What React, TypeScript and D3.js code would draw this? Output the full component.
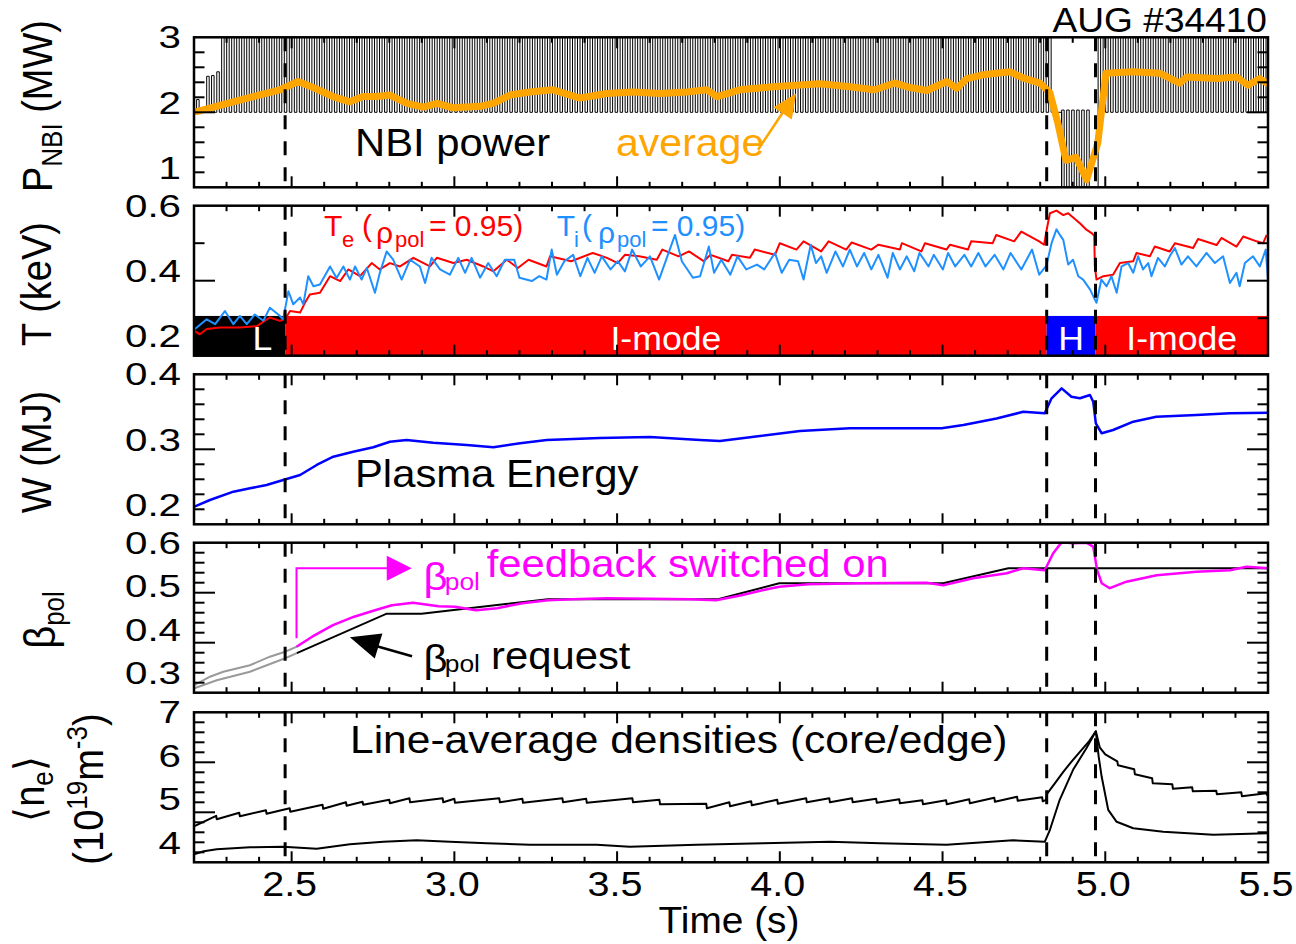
import React from "react";
import * as d3 from "d3";

type P = [number, number];

const FONT = '"Liberation Sans", Arial, Helvetica, sans-serif';

// ---------------- data ----------------
const timeTicks = [2.5, 3.0, 3.5, 4.0, 4.5, 5.0, 5.5];
const transitionTimes = [2.48, 4.82, 4.97];

const nbiTicks = [1, 2, 3];
const tempTicks = [0.2, 0.4, 0.6];
const energyTicks = [0.2, 0.3, 0.4];
const betaTicks = [0.3, 0.4, 0.5, 0.6];
const densTicks = [4, 5, 6, 7];

// NBI modulation (MW): first partial pulses, then blocks [t0, t1, low, high]
const nbiEarlyPulses: P[] = [[2.208, 2.17], [2.239, 2.48], [2.254, 2.49], [2.27, 2.54]];
const nbiPeriod = 0.0154;
const nbiBlocks: [number, number, number, number][] = [
  [2.285, 4.826, 2.0, 3.0],
  [4.866, 4.955, 1.0, 2.03],
  [4.978, 5.5, 2.0, 3.0],
];
const nbiAverage: P[] = [
  [2.208, 2.01], [2.32, 2.14], [2.464, 2.3], [2.52, 2.41], [2.566, 2.33], [2.627, 2.21], [2.679, 2.14],
  [2.719, 2.21], [2.762, 2.21], [2.802, 2.23], [2.854, 2.12], [2.904, 2.07], [2.947, 2.12], [2.996, 2.06],
  [3.079, 2.08], [3.119, 2.12], [3.171, 2.23], [3.232, 2.27], [3.303, 2.3], [3.386, 2.19], [3.469, 2.25],
  [3.549, 2.27], [3.632, 2.25], [3.715, 2.27], [3.776, 2.3], [3.807, 2.21], [3.877, 2.3], [3.979, 2.34],
  [4.123, 2.38], [4.215, 2.34], [4.292, 2.3], [4.354, 2.39], [4.4, 2.33], [4.452, 2.29], [4.513, 2.41],
  [4.544, 2.32], [4.575, 2.45], [4.624, 2.5], [4.707, 2.54], [4.747, 2.46], [4.799, 2.39], [4.83, 2.26],
  [4.854, 1.86], [4.879, 1.36], [4.91, 1.4], [4.943, 1.1], [4.977, 1.59], [5.002, 2.52], [5.085, 2.54],
  [5.168, 2.52], [5.229, 2.39], [5.251, 2.47], [5.343, 2.45], [5.404, 2.47], [5.438, 2.36], [5.475, 2.45],
  [5.496, 2.39],
];

// Edge temperatures (keV)
const teEdge: P[] = [
  [2.201, 0.266], [2.218, 0.257], [2.239, 0.271], [2.28, 0.275], [2.341, 0.275], [2.393, 0.279], [2.433, 0.302],
  [2.464, 0.293], [2.48, 0.297], [2.495, 0.319], [2.526, 0.315], [2.541, 0.341], [2.556, 0.363], [2.587, 0.368],
  [2.618, 0.412], [2.649, 0.399], [2.674, 0.43], [2.71, 0.412], [2.746, 0.447], [2.771, 0.43], [2.802, 0.447],
  [2.833, 0.438], [2.874, 0.461], [2.925, 0.438], [2.946, 0.461], [2.997, 0.447], [3.038, 0.456], [3.089, 0.438],
  [3.12, 0.425], [3.161, 0.456], [3.195, 0.434], [3.228, 0.456], [3.283, 0.438], [3.294, 0.465], [3.359, 0.452],
  [3.425, 0.474], [3.469, 0.461], [3.502, 0.447], [3.524, 0.469], [3.568, 0.465], [3.622, 0.456], [3.639, 0.483],
  [3.689, 0.465], [3.721, 0.478], [3.766, 0.452], [3.787, 0.469], [3.842, 0.452], [3.853, 0.469], [3.908, 0.461],
  [3.923, 0.483], [3.985, 0.469], [4.0, 0.5], [4.051, 0.483], [4.073, 0.505], [4.127, 0.478], [4.15, 0.505],
  [4.204, 0.483], [4.221, 0.502], [4.281, 0.483], [4.303, 0.496], [4.369, 0.483], [4.375, 0.5], [4.435, 0.478],
  [4.446, 0.5], [4.512, 0.483], [4.523, 0.496], [4.578, 0.483], [4.588, 0.505], [4.654, 0.5], [4.665, 0.522],
  [4.72, 0.505], [4.742, 0.531], [4.797, 0.505], [4.812, 0.496], [4.82, 0.536], [4.83, 0.58], [4.85, 0.587],
  [4.871, 0.575], [4.886, 0.58], [4.922, 0.553], [4.942, 0.536], [4.958, 0.527], [4.966, 0.52], [4.968, 0.438],
  [4.973, 0.403], [4.994, 0.412], [5.024, 0.416], [5.045, 0.447], [5.086, 0.452], [5.096, 0.474], [5.137, 0.465],
  [5.152, 0.491], [5.198, 0.478], [5.214, 0.5], [5.27, 0.487], [5.285, 0.511], [5.342, 0.495], [5.357, 0.514],
  [5.403, 0.491], [5.424, 0.518], [5.465, 0.505], [5.485, 0.5], [5.496, 0.522],
];
const tiEdge: P[] = [
  [2.201, 0.27], [2.239, 0.297], [2.265, 0.284], [2.295, 0.319], [2.321, 0.284], [2.341, 0.306], [2.362, 0.284],
  [2.387, 0.31], [2.413, 0.293], [2.433, 0.328], [2.459, 0.31], [2.474, 0.297], [2.49, 0.372], [2.505, 0.337],
  [2.526, 0.355], [2.536, 0.337], [2.551, 0.412], [2.567, 0.385], [2.587, 0.39], [2.618, 0.438], [2.638, 0.407],
  [2.659, 0.438], [2.679, 0.403], [2.695, 0.438], [2.715, 0.403], [2.731, 0.434], [2.756, 0.368], [2.771, 0.421],
  [2.792, 0.478], [2.812, 0.456], [2.838, 0.403], [2.864, 0.456], [2.894, 0.438], [2.91, 0.394], [2.93, 0.461],
  [2.956, 0.43], [2.986, 0.416], [3.012, 0.461], [3.033, 0.421], [3.053, 0.461], [3.079, 0.408], [3.104, 0.447],
  [3.13, 0.412], [3.155, 0.456], [3.184, 0.456], [3.2, 0.408], [3.238, 0.399], [3.261, 0.412], [3.283, 0.403],
  [3.299, 0.483], [3.315, 0.416], [3.338, 0.452], [3.365, 0.469], [3.387, 0.412], [3.409, 0.461], [3.431, 0.421],
  [3.453, 0.465], [3.48, 0.43], [3.502, 0.452], [3.524, 0.425], [3.546, 0.483], [3.573, 0.438], [3.601, 0.465],
  [3.629, 0.403], [3.656, 0.469], [3.678, 0.522], [3.699, 0.452], [3.733, 0.408], [3.755, 0.412], [3.782, 0.491],
  [3.798, 0.421], [3.82, 0.456], [3.848, 0.416], [3.87, 0.465], [3.897, 0.43], [3.93, 0.443], [3.952, 0.43],
  [3.985, 0.474], [4.006, 0.421], [4.029, 0.456], [4.056, 0.452], [4.073, 0.403], [4.095, 0.496], [4.111, 0.447],
  [4.127, 0.465], [4.144, 0.421], [4.171, 0.478], [4.194, 0.438], [4.215, 0.483], [4.237, 0.438], [4.259, 0.474],
  [4.281, 0.43], [4.303, 0.469], [4.331, 0.408], [4.347, 0.474], [4.369, 0.43], [4.39, 0.465], [4.413, 0.425],
  [4.429, 0.474], [4.457, 0.438], [4.473, 0.469], [4.501, 0.43], [4.517, 0.474], [4.539, 0.438], [4.567, 0.469],
  [4.588, 0.438], [4.61, 0.474], [4.632, 0.438], [4.66, 0.469], [4.687, 0.43], [4.709, 0.474], [4.742, 0.43],
  [4.775, 0.483], [4.797, 0.416], [4.819, 0.44], [4.835, 0.5], [4.85, 0.537], [4.862, 0.52], [4.871, 0.509],
  [4.886, 0.443], [4.901, 0.456], [4.917, 0.412], [4.932, 0.403], [4.953, 0.377], [4.973, 0.341], [4.988, 0.403],
  [5.004, 0.385], [5.019, 0.412], [5.035, 0.368], [5.05, 0.438], [5.07, 0.447], [5.086, 0.421], [5.101, 0.465],
  [5.116, 0.43], [5.132, 0.447], [5.142, 0.412], [5.162, 0.461], [5.183, 0.438], [5.198, 0.465], [5.214, 0.487],
  [5.234, 0.443], [5.254, 0.465], [5.28, 0.438], [5.311, 0.474], [5.337, 0.447], [5.362, 0.465], [5.383, 0.394],
  [5.403, 0.421], [5.413, 0.385], [5.429, 0.447], [5.454, 0.465], [5.475, 0.438], [5.493, 0.483], [5.5, 0.403],
];

// confinement regime bar: [t0, t1, colour, label, label time]
const regimes: [number, number, string, string, number][] = [
  [2.2, 2.48, "#000000", "L", 2.41],
  [2.48, 4.82, "#ff0000", "I-mode", 3.65],
  [4.82, 4.97, "#0000ff", "H", 4.895],
  [4.97, 5.5, "#ff0000", "I-mode", 5.235],
];
const regimeBand = [0.2, 0.306];

// Plasma energy (MJ)
const plasmaEnergy: P[] = [
  [2.201, 0.2235], [2.249, 0.2324], [2.321, 0.2435], [2.372, 0.248], [2.423, 0.2524], [2.474, 0.2591],
  [2.526, 0.2657], [2.577, 0.2791], [2.628, 0.2901], [2.689, 0.2968], [2.751, 0.3027], [2.802, 0.3101],
  [2.853, 0.3124], [2.935, 0.3088], [3.038, 0.3057], [3.12, 0.3027], [3.202, 0.308], [3.284, 0.3124],
  [3.447, 0.315], [3.601, 0.3164], [3.755, 0.3124], [3.816, 0.311], [3.939, 0.3177], [4.062, 0.3244],
  [4.215, 0.328], [4.308, 0.328], [4.41, 0.328], [4.497, 0.328], [4.564, 0.3324], [4.666, 0.341], [4.748, 0.35],
  [4.814, 0.348], [4.835, 0.368], [4.866, 0.3813], [4.896, 0.37], [4.922, 0.368], [4.953, 0.3724],
  [4.963, 0.3635], [4.971, 0.3347], [4.989, 0.3213], [5.024, 0.3257], [5.086, 0.3368], [5.157, 0.3435],
  [5.28, 0.3457], [5.383, 0.348], [5.5, 0.3488],
];

// beta_pol
const betaOhmicMeasured: P[] = [
  [2.201, 0.315], [2.249, 0.332], [2.29, 0.342], [2.372, 0.355], [2.433, 0.372], [2.48, 0.382], [2.516, 0.392],
];
const betaOhmicRequest: P[] = [[2.201, 0.309], [2.27, 0.325], [2.372, 0.342], [2.48, 0.369], [2.516, 0.379]];
const betaRequest: P[] = [
  [2.516, 0.379], [2.792, 0.458], [2.899, 0.458], [3.287, 0.487], [3.81, 0.487], [3.998, 0.519],
  [4.502, 0.519], [4.702, 0.549], [5.5, 0.549],
];
const betaFeedback: P[] = [
  [2.515, 0.392], [2.563, 0.412], [2.627, 0.435], [2.692, 0.452], [2.756, 0.465], [2.808, 0.475], [2.873, 0.48],
  [2.951, 0.473], [3.002, 0.472], [3.066, 0.465], [3.131, 0.469], [3.209, 0.479], [3.287, 0.485], [3.364, 0.487],
  [3.468, 0.489], [3.597, 0.488], [3.727, 0.487], [3.804, 0.485], [3.882, 0.495], [3.946, 0.505], [3.998, 0.512],
  [4.088, 0.517], [4.244, 0.519], [4.451, 0.52], [4.502, 0.515], [4.594, 0.529], [4.697, 0.539], [4.748, 0.549],
  [4.814, 0.545], [4.84, 0.579], [4.866, 0.601], [4.901, 0.599], [4.942, 0.6], [4.963, 0.592], [4.975, 0.545],
  [4.989, 0.519], [5.014, 0.509], [5.065, 0.522], [5.158, 0.535], [5.28, 0.542], [5.383, 0.545], [5.434, 0.552],
  [5.5, 0.549],
];

// line-average densities (1e19 m^-3)
const densCore: P[] = [
  [2.2, 4.72], [2.268, 4.93], [2.27, 4.86], [2.339, 4.99], [2.341, 4.92], [2.421, 5.04], [2.423, 4.97],
  [2.494, 5.08], [2.496, 5.01], [2.595, 5.15], [2.597, 5.07], [2.667, 5.2], [2.669, 5.13], [2.718, 5.21],
  [2.72, 5.15], [2.8, 5.25], [2.802, 5.18], [2.862, 5.28], [2.864, 5.2], [2.964, 5.28], [2.966, 5.2], [3.0, 5.27],
  [3.002, 5.19], [3.138, 5.28], [3.14, 5.2], [3.209, 5.27], [3.211, 5.19], [3.332, 5.28], [3.334, 5.2],
  [3.405, 5.27], [3.407, 5.19], [3.547, 5.28], [3.549, 5.2], [3.63, 5.25], [3.632, 5.16], [3.774, 5.17],
  [3.776, 5.08], [3.845, 5.2], [3.847, 5.12], [3.912, 5.22], [3.914, 5.14], [3.992, 5.25], [3.994, 5.17],
  [4.081, 5.28], [4.083, 5.2], [4.152, 5.28], [4.154, 5.2], [4.222, 5.28], [4.224, 5.2], [4.296, 5.27],
  [4.298, 5.19], [4.367, 5.26], [4.369, 5.18], [4.438, 5.24], [4.44, 5.16], [4.511, 5.24], [4.513, 5.16],
  [4.582, 5.26], [4.584, 5.18], [4.659, 5.29], [4.661, 5.21], [4.729, 5.31], [4.731, 5.23], [4.806, 5.3],
  [4.808, 5.22], [4.818, 5.25], [4.822, 5.38], [4.845, 5.58], [4.871, 5.81], [4.897, 6.02], [4.922, 6.21],
  [4.95, 6.42], [4.971, 6.62], [4.983, 6.3], [5.0, 6.16], [5.037, 6.02], [5.039, 5.94], [5.089, 5.86],
  [5.091, 5.76], [5.144, 5.68], [5.146, 5.58], [5.206, 5.56], [5.208, 5.47], [5.267, 5.5], [5.269, 5.42],
  [5.341, 5.43], [5.343, 5.36], [5.418, 5.4], [5.42, 5.32], [5.494, 5.38], [5.5, 5.32],
];
const densEdge: P[] = [
  [2.2, 4.16], [2.23, 4.22], [2.27, 4.26], [2.372, 4.3], [2.474, 4.31], [2.577, 4.27], [2.679, 4.36],
  [2.782, 4.41], [2.884, 4.44], [2.986, 4.41], [3.1, 4.38], [3.232, 4.35], [3.437, 4.35], [3.539, 4.31],
  [3.744, 4.35], [3.949, 4.38], [4.154, 4.41], [4.308, 4.38], [4.512, 4.35], [4.717, 4.44], [4.814, 4.41],
  [4.83, 4.65], [4.86, 5.25], [4.901, 5.85], [4.942, 6.28], [4.971, 6.62], [4.98, 6.1], [4.989, 5.71],
  [5.009, 5.05], [5.035, 4.81], [5.086, 4.68], [5.178, 4.61], [5.332, 4.55], [5.5, 4.58],
];

// ---------------- layout ----------------
const X_LEFT = 194;
const X_RIGHT = 1268;
const TOPS = [37.3, 205.7, 374.3, 542.7, 712.3];
const PH = 150;

const x = d3.scaleLinear().domain([2.2, 5.5]).range([X_LEFT, X_RIGHT]);

type PanelCfg = { domain: [number, number]; minor: number; major: number[]; labels: number[]; fmt: string };
const PANELS: PanelCfg[] = [
  { domain: [1, 3], minor: 0.2, major: [2], labels: nbiTicks, fmt: ".0f" },
  { domain: [0.2, 0.6], minor: 0.1, major: [0.4], labels: tempTicks, fmt: ".1f" },
  { domain: [0.2, 0.4], minor: 0.02, major: [0.3], labels: energyTicks, fmt: ".1f" },
  { domain: [0.3, 0.6], minor: 0.02, major: [0.4, 0.5], labels: betaTicks, fmt: ".1f" },
  { domain: [4, 7], minor: 0.2, major: [5, 6], labels: densTicks, fmt: ".0f" },
];
const yScales = PANELS.map((p, i) => d3.scaleLinear().domain(p.domain).range([TOPS[i] + PH, TOPS[i]]));

function lineFor(y: d3.ScaleLinear<number, number>) {
  return d3.line<P>().x((d) => x(d[0])).y((d) => y(d[1]));
}

function nbiPulsePoints(): P[] {
  const pts: P[] = [[2.2, 2.0]];
  const w = nbiPeriod / 2;
  for (const [t, h] of nbiEarlyPulses) pts.push([t, 2], [t, h], [t + w, h], [t + w, 2]);
  for (const [t0, t1, lo, hi] of nbiBlocks) {
    pts.push([t0, pts[pts.length - 1][1]], [t0, lo]);
    for (let t = t0; t < t1; t += nbiPeriod) pts.push([t, lo], [t, hi], [t + w, hi], [t + w, lo]);
  }
  return pts;
}

function ST(props: {
  x: number; y: number; size: number; sx?: number; anchor?: string; fill?: string; rotate?: boolean; children: any;
}) {
  const { x: tx, y: ty, size, sx = 1, anchor = "start", fill = "#000", rotate = false } = props;
  return (
    <g transform={`translate(${tx},${ty}) scale(${sx},1)${rotate ? " rotate(-90)" : ""}`}>
      <text fontSize={size} textAnchor={anchor as any} fill={fill} fontFamily={FONT}>
        {props.children}
      </text>
    </g>
  );
}

function arrowHead(tip: [number, number], from: [number, number], len: number, hw: number) {
  const dx = tip[0] - from[0], dy = tip[1] - from[1];
  const L = Math.hypot(dx, dy);
  const ux = dx / L, uy = dy / L;
  const bx = tip[0] - ux * len, by = tip[1] - uy * len;
  return `${tip[0]},${tip[1]} ${bx - uy * hw},${by + ux * hw} ${bx + uy * hw},${by - ux * hw}`;
}

export default function App() {
  const [yN, yT, yW, yB, yD] = yScales;
  const xMinor = d3.range(23, 55).map((k) => k / 10);

  const frames = PANELS.map((p, i) => {
    const top = TOPS[i], bot = top + PH;
    const y = yScales[i];
    const n = Math.round((p.domain[1] - p.domain[0]) / p.minor);
    const yt = d3.range(1, n).map((k) => p.domain[0] + k * p.minor);
    const isMaj = (v: number) => p.major.some((m) => Math.abs(m - v) < 1e-6);
    const fmt = d3.format(p.fmt);
    return (
      <g key={"f" + i}>
        {yt.map((v, k) => {
          const L = isMaj(v) ? 21 : 10.5;
          return (
            <g key={k} stroke="#000" strokeWidth={2}>
              <line x1={X_LEFT} x2={X_LEFT + L} y1={y(v)} y2={y(v)} />
              <line x1={X_RIGHT} x2={X_RIGHT - L} y1={y(v)} y2={y(v)} />
            </g>
          );
        })}
        {xMinor.map((t, k) => {
          const maj = Math.abs(t * 2 - Math.round(t * 2)) < 1e-6;
          const L = maj ? 11 : 5.5;
          return (
            <g key={"x" + k} stroke="#000" strokeWidth={2}>
              <line x1={x(t)} x2={x(t)} y1={bot} y2={bot - L} />
              <line x1={x(t)} x2={x(t)} y1={top} y2={top + L} />
            </g>
          );
        })}
        <rect x={X_LEFT} y={top} width={X_RIGHT - X_LEFT} height={PH} fill="none" stroke="#000" strokeWidth={2.5} />
        {p.labels.map((v, k) => (
          <ST key={"l" + k} x={181} y={top + (y(v) - top) * 0.87 + 11} size={31} sx={1.3} anchor="end">
            {fmt(v)}
          </ST>
        ))}
      </g>
    );
  });

  const dashes = PANELS.map((_, i) => (
    <g key={"d" + i}>
      {transitionTimes.map((t, k) => (
        <line key={k} x1={x(t)} x2={x(t)} y1={TOPS[i]} y2={TOPS[i] + PH} stroke="#000" strokeWidth={3}
          strokeDasharray="14,12" />
      ))}
    </g>
  ));

  const ln = yScales.map(lineFor);
  const orangeTip: [number, number] = [x(4.05), yN(2.25)];
  const orangeTail: [number, number] = [x(3.933), yN(1.5)];
  const bTip: [number, number] = [x(2.679), yB(0.411)];
  const bTail: [number, number] = [x(2.87), yB(0.373)];
  const mCorner: [number, number] = [x(2.515), yB(0.549)];
  const mTip: [number, number] = [x(2.869), yB(0.549)];

  return (
    <svg width={1296} height={944} style={{ position: "absolute", left: 0, top: 0, background: "#fff" }}>
      <defs>
        {TOPS.map((t, i) => (
          <clipPath id={"clip" + i} key={i}>
            <rect x={X_LEFT} y={t} width={X_RIGHT - X_LEFT} height={PH} />
          </clipPath>
        ))}
      </defs>
      <rect x={0} y={0} width={1296} height={944} fill="#fff" />

      {/* panel 1: NBI */}
      <g clipPath="url(#clip0)">
        <path d={ln[0](nbiPulsePoints()) || ""} fill="none" stroke="#000" strokeWidth={1} />
        <path d={ln[0](nbiAverage) || ""} fill="none" stroke="#FFA500" strokeWidth={7} strokeLinejoin="round"
          strokeLinecap="round" />
      </g>

      {/* panel 2: temperatures */}
      <g clipPath="url(#clip1)">
        {regimes.map(([t0, t1, c], k) => (
          <rect key={k} x={x(t0)} y={yT(regimeBand[1])} width={x(t1) - x(t0)}
            height={yT(regimeBand[0]) - yT(regimeBand[1])} fill={c} />
        ))}
        <path d={ln[1](teEdge) || ""} fill="none" stroke="#ff0000" strokeWidth={2} strokeLinejoin="round" />
        <path d={ln[1](tiEdge) || ""} fill="none" stroke="#1e90ff" strokeWidth={2} strokeLinejoin="round" />
      </g>
      {regimes.map(([, , , label, tl], k) => (
        <ST key={"r" + k} x={x(tl)} y={349.5} size={33} sx={1.08} anchor="middle" fill="#fff">
          {label}
        </ST>
      ))}

      {/* panel 3: energy */}
      <g clipPath="url(#clip2)">
        <path d={ln[2](plasmaEnergy) || ""} fill="none" stroke="#0000ff" strokeWidth={2.5} strokeLinejoin="round" />
      </g>

      {/* panel 4: beta */}
      <g clipPath="url(#clip3)">
        <path d={ln[3](betaOhmicRequest) || ""} fill="none" stroke="#9a9a9a" strokeWidth={2} />
        <path d={ln[3](betaOhmicMeasured) || ""} fill="none" stroke="#9a9a9a" strokeWidth={2} />
        <path d={ln[3](betaRequest) || ""} fill="none" stroke="#000" strokeWidth={2} />
        <path d={ln[3](betaFeedback) || ""} fill="none" stroke="#ff00ff" strokeWidth={2.5} strokeLinejoin="round" />
      </g>

      {/* panel 5: densities */}
      <g clipPath="url(#clip4)">
        <path d={ln[4](densCore) || ""} fill="none" stroke="#000" strokeWidth={2} strokeLinejoin="round" />
        <path d={ln[4](densEdge) || ""} fill="none" stroke="#000" strokeWidth={2} strokeLinejoin="round" />
      </g>

      {dashes}
      {frames}

      {/* annotations */}
      <ST x={1267} y={31.7} size={35} sx={1.06} anchor="end">AUG #34410</ST>
      <ST x={355} y={156} size={38} sx={1.1}>NBI power</ST>
      <ST x={616} y={156} size={38} sx={1.08} fill="#FFA500">average</ST>
      <line x1={orangeTail[0]} y1={orangeTail[1]} x2={orangeTip[0] - 8} y2={orangeTip[1] + 11} stroke="#FFA500"
        strokeWidth={2.5} />
      <polygon points={arrowHead(orangeTip, orangeTail, 24, 11)} fill="#FFA500" />

      {/* Te / Ti legends */}
      <g fontFamily={FONT} fill="#ff0000">
        <text x={324} y={236} fontSize={30}>T</text>
        <text x={342} y={247} fontSize={22}>e</text>
        <text x={362} y={236} fontSize={30}>(</text>
        <text x={376} y={243} fontSize={30}>ρ</text>
        <text x={395} y={247} fontSize={22}>pol</text>
        <text x={429} y={236} fontSize={30}>= 0.95)</text>
      </g>
      <g fontFamily={FONT} fill="#1e90ff">
        <text x={556.7} y={236} fontSize={30}>T</text>
        <text x={574} y={247} fontSize={22}>i</text>
        <text x={582} y={236} fontSize={30}>(</text>
        <text x={598} y={243} fontSize={30}>ρ</text>
        <text x={617} y={247} fontSize={22}>pol</text>
        <text x={651} y={236} fontSize={30}>= 0.95)</text>
      </g>

      <ST x={355} y={487} size={38} sx={1.1}>Plasma Energy</ST>

      {/* beta annotations */}
      <polyline points={`${mCorner[0]},${yB(0.409)} ${mCorner[0]},${mCorner[1]} ${mTip[0] - 20},${mTip[1]}`}
        fill="none" stroke="#ff00ff" strokeWidth={2} />
      <polygon points={arrowHead(mTip, mCorner, 25, 12.5)} fill="#ff00ff" />
      <ST x={423.6} y={590} size={38} sx={1.1} fill="#ff00ff">β</ST>
      <ST x={444.7} y={590} size={24} sx={1.1} fill="#ff00ff">pol</ST>
      <ST x={486.7} y={577} size={38} sx={1.1} fill="#ff00ff">feedback switched on</ST>

      <line x1={bTail[0]} y1={bTail[1]} x2={bTip[0] + 20} y2={bTip[1] + 7} stroke="#000" strokeWidth={2.5} />
      <polygon points={arrowHead(bTip, bTail, 30, 13)} fill="#000" />
      <ST x={423.6} y={672} size={38} sx={1.1}>β</ST>
      <ST x={444.7} y={672} size={24} sx={1.1}>pol</ST>
      <ST x={491} y={669} size={38} sx={1.1}>request</ST>

      <ST x={350} y={753} size={38} sx={1.12}>Line-average densities (core/edge)</ST>

      {/* x tick labels */}
      {timeTicks.map((t, k) => (
        <ST key={"xt" + k} x={x(t) - 2} y={896} size={35} sx={1.13} anchor="middle">
          {d3.format(".1f")(t)}
        </ST>
      ))}
      <ST x={729} y={933} size={37} sx={1.05} anchor="middle">Time (s)</ST>

      {/* y axis titles */}
      <ST x={52} y={106} size={38} sx={1.1} rotate anchor="middle">
        P<tspan fontSize={26} dy={9}>NBI</tspan><tspan dy={-9}> (MW)</tspan>
      </ST>
      <ST x={51} y={284} size={38} sx={1.1} rotate anchor="middle">T (keV)</ST>
      <ST x={51} y={452} size={38} sx={1.1} rotate anchor="middle">W (MJ)</ST>
      <ST x={55} y={620} size={40} sx={1.1} rotate anchor="middle">
        β<tspan fontSize={26} dy={8}>pol</tspan>
      </ST>
      <ST x={44} y={789} size={38} sx={1.1} rotate anchor="middle">
        ⟨n<tspan fontSize={26} dy={8}>e</tspan><tspan dy={-8}>⟩</tspan>
      </ST>
      <ST x={103} y={789} size={38} sx={1.1} rotate anchor="middle">
        (10<tspan fontSize={26} dy={-15}>19</tspan><tspan dy={15}>m</tspan><tspan fontSize={26} dy={-15}>-3</tspan>
        <tspan dy={15}>)</tspan>
      </ST>
    </svg>
  );
}
